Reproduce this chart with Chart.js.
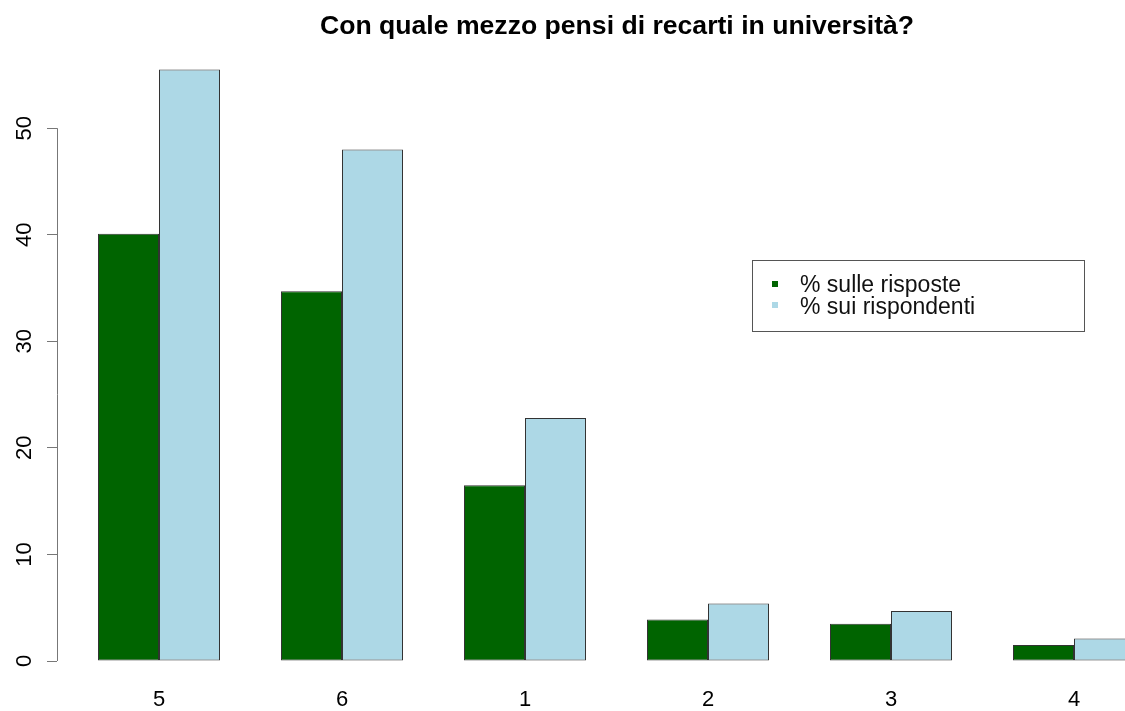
<!DOCTYPE html>
<html>
<head>
<meta charset="utf-8">
<script src="https://cdn.jsdelivr.net/npm/chart.js@4.4.1/dist/chart.umd.min.js"></script>
<style>
  html, body { margin: 0; padding: 0; background: #fff; overflow: hidden; }
  #chart { display: block; }
</style>
</head>
<body>
<canvas id="chart" width="1234" height="711"></canvas>
<script>
const FONT = '"Liberation Sans", Arial, Helvetica, sans-serif';

// answer codes, in the order the bars are drawn
const categories = ["5", "6", "1", "2", "3", "4"];
const seriesNames = ["% sulle risposte", "% sui rispondenti"];
const seriesColors = ["#006400", "#ADD8E6"];
const sulleRisposte = [40.1, 34.7, 16.5, 3.9, 3.5, 1.5];
const suiRispondenti = [55.5, 48.0, 22.8, 5.4, 4.7, 2.1];
const yTicks = [0, 10, 20, 30, 40, 50];

function toPoints(values) {
  return values.map((v, i) => ({ x: i + 1, y: v }));
}

// R-style axis line: only spans from the first to the last tick
const axisLine = {
  id: "axisLine",
  beforeDatasetsDraw(chart) {
    const ctx = chart.ctx;
    const y = chart.scales.y;
    const x = Math.round(chart.chartArea.left) + 0.5;
    ctx.save();
    ctx.strokeStyle = "#777";
    ctx.lineWidth = 1;
    ctx.beginPath();
    ctx.moveTo(x, y.getPixelForValue(yTicks[0]));
    ctx.lineTo(x, y.getPixelForValue(yTicks[yTicks.length - 1]));
    ctx.stroke();
    ctx.restore();
  },
};

// boxed legend inside the plot
const boxLegend = {
  id: "boxLegend",
  afterDraw(chart) {
    const ctx = chart.ctx;
    const left = 752, top = 260, w = 332, h = 71;
    ctx.save();
    ctx.strokeStyle = "#555";
    ctx.lineWidth = 1;
    ctx.strokeRect(left + 0.5, top + 0.5, w, h);
    ctx.font = "23px " + FONT;
    ctx.textBaseline = "middle";
    chart.data.datasets.forEach((ds, i) => {
      const sq = top + 24 + i * 21;
      ctx.fillStyle = ds.backgroundColor;
      ctx.fillRect(772, sq - 3, 6, 6);
      ctx.fillStyle = "#111";
      ctx.fillText(ds.label, 800, top + 25.5 + i * 22.5);
    });
    ctx.restore();
  },
};

new Chart(document.getElementById("chart").getContext("2d"), {
  type: "bar",
  data: {
    datasets: [
      {
        label: seriesNames[0],
        data: toPoints(sulleRisposte),
        backgroundColor: seriesColors[0],
        borderColor: "#333",
        borderWidth: 1,
        borderSkipped: false,
      },
      {
        label: seriesNames[1],
        data: toPoints(suiRispondenti),
        backgroundColor: seriesColors[1],
        borderColor: "#333",
        borderWidth: 1,
        borderSkipped: false,
      },
    ],
  },
  options: {
    responsive: false,
    animation: false,
    devicePixelRatio: 1,
    categoryPercentage: 2 / 3,
    barPercentage: 1,
    layout: { padding: 0 },
    plugins: {
      legend: { display: false },
      tooltip: { enabled: false },
      title: {
        display: true,
        text: "Con quale mezzo pensi di recarti in università?",
        color: "#000",
        font: { family: FONT, size: 26.6, weight: "bold" },
        padding: { top: 11, bottom: 0 },
      },
    },
    scales: {
      x: {
        type: "linear",
        offset: false,
        min: 0.4426,
        max: 6.8743,
        grid: { display: false, drawTicks: false },
        border: { display: false },
        ticks: {
          stepSize: 1,
          includeBounds: false,
          padding: 26,
          color: "#000",
          font: { family: FONT, size: 22 },
          callback: (v) => categories[v - 1] || "",
        },
        afterFit(scale) {
          scale.height = 50;
        },
      },
      y: {
        min: 0,
        max: 58,
        grid: {
          drawOnChartArea: false,
          drawTicks: true,
          tickLength: 10,
          color: "#777",
        },
        border: { display: false },
        ticks: {
          stepSize: 10,
          includeBounds: false,
          minRotation: 90,
          maxRotation: 90,
          crossAlign: "center",
          padding: 10,
          color: "#000",
          font: { family: FONT, size: 22 },
        },
        afterFit(scale) {
          scale.width = 57;
        },
      },
    },
  },
  plugins: [axisLine, boxLegend],
});
</script>
</body>
</html>
